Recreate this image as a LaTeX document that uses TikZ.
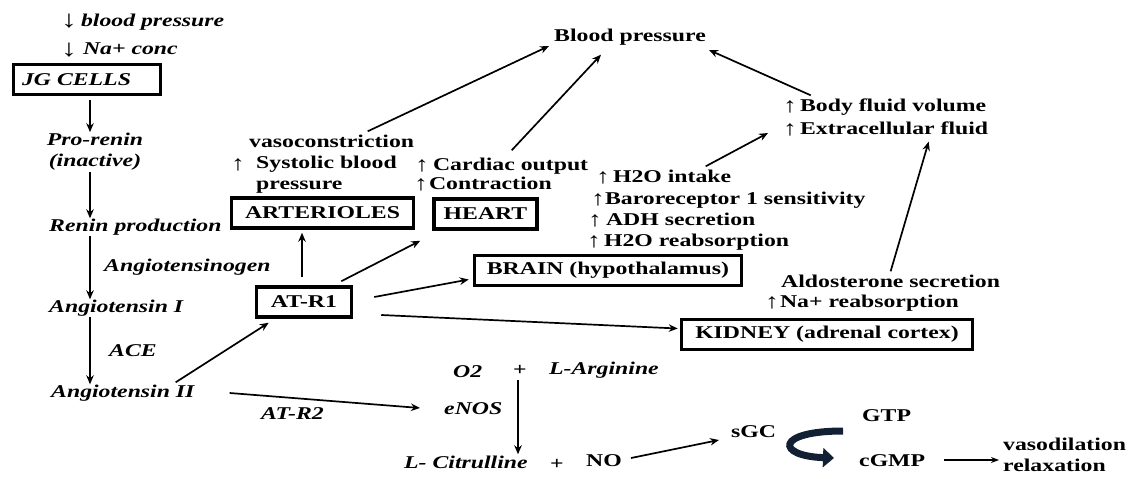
\documentclass[tikz,border=0pt]{standalone}
\usepackage{fontspec}
\setmainfont{Liberation Serif}[FakeStretch=1.32]
\usetikzlibrary{arrows.meta,calc}
\definecolor{curvecol}{RGB}{18,32,52}
\newcommand{\ua}{{\upshape\fontsize{21}{21}\selectfont\smash{\raisebox{-1pt}{↑}}}}
\newcommand{\da}{{\upshape\fontsize{24}{24}\selectfont\smash{\raisebox{-1.5pt}{↓}}}}
\begin{document}
\begin{tikzpicture}[x=1pt,y=-1pt,
  every node/.style={font=\fontsize{18}{21}\selectfont\bfseries, inner sep=1pt},
  lbl/.style={anchor=west, text height=12pt, text depth=3pt},
  mlbl/.style={anchor=west},
  itl/.style={font=\fontsize{18}{21}\selectfont\bfseries\itshape},
  box/.style={draw, line width=3.5pt, minimum height=30pt, inner sep=0pt},
  arr/.style={-{Stealth[length=9pt,width=7.5pt]}, line width=1.7pt},
]
\fill[white] (0,0) rectangle (1148,479);
\useasboundingbox (0,0) rectangle (1148,479);

% left column
\node[lbl,itl] (bpd) at (60,22) {\da\hspace{4pt}blood pressure};
\node[lbl,itl] (nad) at (60,50) {\da\hspace{6pt}Na+ conc};
\node[box, itl, minimum width=147pt, text width=130pt, align=left] (jg) at (87,79.5) {JG CELLS};
\node[itl, align=center] (pro) at (95,152) {Pro-renin\\(inactive)};
\node[lbl,itl] (renin) at (48,227) {Renin production};
\node[lbl,itl] (angI) at (48,308) {Angiotensin I};
\node[lbl,itl] (angII) at (50,393) {Angiotensin II};
\node[lbl,itl] (agen) at (103,267) {Angiotensinogen};
\node[lbl,itl] (ace) at (108,352) {ACE};
\node[lbl,itl] (atr2) at (260,415) {AT-R2};

% boxes
\node[box, minimum width=95pt] (atr1) at (304,302) {AT-R1};
\node[box, minimum width=182pt] (arter) at (322.5,213) {ARTERIOLES};
\node[box, minimum width=103pt] (heart) at (485.5,214) {HEART};
\node[box, minimum width=267pt] (brain) at (608,270.5) {BRAIN (hypothalamus)};
\node[box, minimum width=291pt] (kidney) at (827,334.5) {KIDNEY (adrenal cortex)};

% effect labels
\node[lbl] (vaso) at (248,143) {vasoconstriction};
\node[lbl] (sysa) at (230,165) {\ua};
\node[mlbl, align=left] (sys) at (255,175) {Systolic blood\\pressure};
\node[lbl] (card) at (414,166) {\ua\hspace{4pt}Cardiac output};
\node[lbl] (contr) at (413,185) {\ua\hspace{1pt}Contraction};
\node[lbl] (bp) at (553,37) {Blood pressure};
\node[lbl] (body) at (782,107) {\ua\hspace{3pt}Body fluid volume};
\node[lbl] (ecf) at (782,130) {\ua\hspace{3pt}Extracellular fluid};
\node[lbl] (h2oi) at (595,178) {\ua\hspace{3pt}H2O intake};
\node[lbl] (baro) at (590,200) {\ua Baroreceptor 1 sensitivity};
\node[lbl] (adh) at (587,221) {\ua\hspace{4pt}ADH secretion};
\node[lbl] (h2or) at (586,242) {\ua\hspace{3pt}H2O reabsorption};
\node[lbl] (aldo) at (780,283) {Aldosterone secretion};
\node[lbl] (nare) at (764,303) {\ua\hspace{1pt}Na+ reabsorption};

% NO pathway
\node[lbl,itl] (o2) at (452,373) {O2};
\node (plus1) at (520,370) {+};
\node[lbl,itl] (larg) at (548,370) {L-Arginine};
\node[lbl,itl] (enos) at (443,410) {eNOS};
\node[lbl,itl] (citr) at (403,464) {L- Citrulline};
\node (plus2) at (557,464) {+};
\node[lbl] (no) at (585,462) {NO};
\node[lbl] (sgc) at (730,433) {sGC};
\node[lbl] (gtp) at (861,417) {GTP};
\node[lbl] (cgmp) at (858,462) {cGMP};
\node[mlbl, align=left] (vd) at (1002,455) {vasodilation\\relaxation};

% connectors
\coordinate (col) at (90,0);
\draw[arr, shorten <=4pt] (jg.south -| col) -- (pro.north -| col);
\draw[arr] (pro.south -| col) -- (renin.north -| col);
\draw[arr] (renin.south -| col) -- (angI.north -| col);
\draw[arr] (angI.south -| col) -- (angII.north -| col);
\draw[arr] ($(angII.north east)+(-20,-2)$) -- ($(atr1.south west)+(14,4)$);
\draw[arr] ($(angII.east)+(34,0)$) -- ($(enos.west)+(-23,-2)$);
\draw[arr] ($(atr1.north)+(-2,-8)$) -- ($(arter.south -| atr1.north)+(-2,3)$);
\draw[arr] ($(atr1.north east)+(-12,-4)$) -- ($(heart.south west)+(-12,10)$);
\draw[arr] ($(atr1.east)+(21,-5)$) -- ($(brain.west)+(-4,9)$);
\draw[arr] ($(atr1.east)+(28,13)$) -- ($(kidney.west)+(-2,-6)$);
\draw[arr] ($(vaso.north)+(36,-3)$) -- ($(bp.west)+(-4,9)$);
\draw[arr] ($(card.north)+(10,-7)$) -- ($(bp.south)+(-29,9)$);
\draw[arr] ($(body.north)+(-74,-3)$) -- ($(bp.east)+(2,13)$);
\draw[arr] ($(h2oi.north)+(42,-3)$) -- ($(ecf.west)+(-14,3)$);
\draw[arr] ($(aldo.north)+(0,-3)$) -- ($(ecf.south)+(43,3)$);
\draw[arr] ($(plus1.south)+(-2,4)$) -- ($(plus1.south |- citr.north)+(-2,-1)$);
\draw[arr] ($(no.east)+(8,-4)$) -- ($(sgc.west)+(-11,7)$);
\draw[-{Stealth[length=8pt,width=6pt]}, line width=1.3pt] ($(cgmp.east)+(18,-2)$) -- ($(cgmp.east -| vd.west)+(-3,-2)$);
\draw[line width=7pt, draw=curvecol, -{Triangle[length=11pt,width=19pt]}]
  ($(gtp.west)+(-18,14)$) .. controls +(-68,0) and +(-58,-2) .. ($(cgmp.west)+(-24,-4)$);
\end{tikzpicture}
\end{document}
